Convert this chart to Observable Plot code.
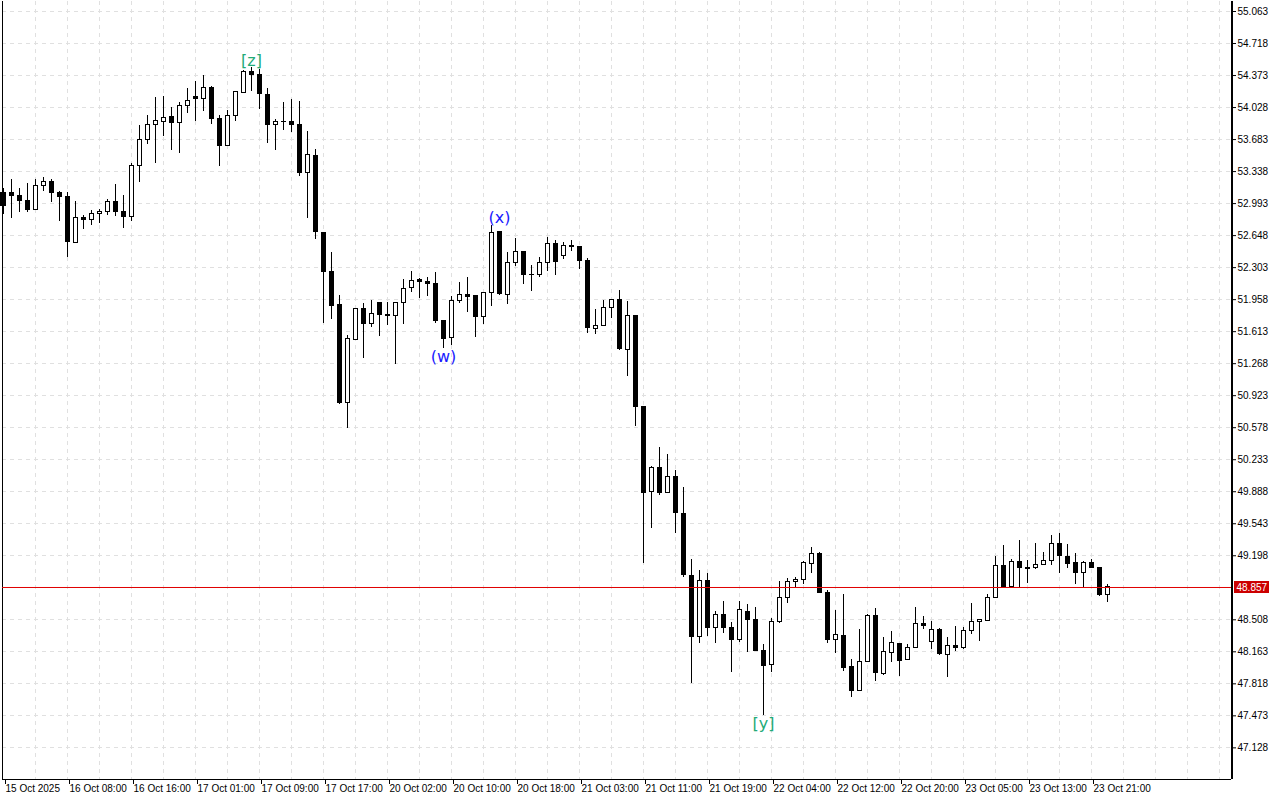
<!DOCTYPE html>
<html>
<head>
<meta charset="utf-8">
<script src="https://cdn.jsdelivr.net/npm/d3@7"></script>
<script src="https://cdn.jsdelivr.net/npm/@observablehq/plot@0.6"></script>
<style>
html, body { margin: 0; padding: 0; background: #ffffff; }
#chart svg { display: block; }
</style>
</head>
<body>
<div id="chart"></div>
<script>
// ---- Data (hourly candles, index 0..138) ----
const openP = [53.112,53.102,53.080,53.026,52.922,53.185,53.228,53.109,53.069,52.571,
52.840,52.818,52.883,52.905,53.012,52.905,52.846,53.400,53.673,53.842,
53.874,53.921,53.864,54.047,54.144,54.122,54.241,53.907,53.611,53.939,
54.190,54.406,54.384,54.165,53.842,53.867,53.867,53.842,53.320,53.511,
52.678,52.261,51.902,50.846,51.528,51.859,51.693,51.924,51.795,51.784,
51.924,52.081,52.167,52.153,52.129,51.730,51.547,51.946,52.010,51.999,
51.769,52.032,52.689,52.006,52.355,52.474,52.221,52.221,52.355,52.560,
52.430,52.538,52.527,52.377,51.644,51.676,51.870,51.949,51.417,51.787,
50.806,49.887,50.146,49.872,50.049,49.650,48.982,48.320,48.928,48.417,
48.562,48.422,48.285,48.594,48.508,48.174,48.023,48.482,48.745,48.913,
48.942,49.111,49.219,48.799,48.292,48.336,48.001,47.743,48.055,48.551,
47.922,48.152,48.249,48.077,48.206,48.465,48.271,48.393,48.131,48.228,
48.206,48.389,48.486,48.497,48.745,49.093,48.859,49.133,49.064,49.064,
49.101,49.144,49.327,49.187,49.122,49.014,49.122,49.068,48.777];
const highP = [53.156,53.253,53.156,53.210,53.253,53.277,53.249,53.127,53.112,53.012,
52.865,52.919,52.929,53.034,53.199,53.080,53.422,53.835,53.942,54.136,
54.147,54.028,54.082,54.233,54.309,54.373,54.255,53.942,53.993,54.204,
54.427,54.456,54.435,54.230,53.896,54.082,54.111,54.093,53.770,53.573,
52.682,52.466,52.003,51.572,51.866,51.916,51.946,51.930,51.924,51.928,
52.175,52.261,52.189,52.193,52.250,51.735,51.992,52.143,52.193,52.003,
52.036,52.760,52.693,52.466,52.614,52.478,52.326,52.409,52.628,52.595,
52.577,52.595,52.531,52.398,51.849,51.949,51.953,52.057,51.938,51.791,
50.810,50.160,50.361,50.289,50.117,49.934,49.155,49.039,49.007,48.597,
48.705,48.482,48.705,48.670,48.637,48.239,48.522,48.917,48.950,48.964,
49.136,49.287,49.230,48.824,48.608,48.781,48.080,48.403,48.565,48.631,
48.314,48.382,48.253,48.239,48.637,48.544,48.490,48.411,48.314,48.432,
48.422,48.680,48.512,48.777,49.190,49.309,49.155,49.363,49.144,49.330,
49.230,49.416,49.435,49.316,49.219,49.133,49.155,49.072,48.885];
const lowP = [52.875,52.836,52.900,52.897,52.918,53.127,53.005,52.803,52.409,52.560,
52.717,52.760,52.782,52.868,52.851,52.728,52.800,53.224,53.633,53.428,
53.716,53.568,53.536,53.967,53.881,53.989,53.842,53.396,53.605,53.881,
54.176,54.204,54.010,53.644,53.568,53.784,53.762,53.288,52.836,52.606,
51.704,51.747,50.831,50.566,51.525,51.327,51.661,51.558,51.679,51.256,
51.687,52.038,51.967,51.992,51.704,51.435,51.467,51.913,51.823,51.553,
51.687,51.887,51.999,51.909,52.318,52.124,52.049,52.200,52.264,52.221,
52.394,52.474,52.286,51.596,51.582,51.672,51.751,51.410,51.130,50.594,
49.118,49.495,49.851,49.868,49.435,48.967,47.818,48.256,48.331,48.256,
48.364,47.943,48.267,48.159,48.166,47.477,47.943,48.471,48.680,48.842,
48.888,49.004,48.788,48.256,48.148,47.954,47.674,47.739,48.051,47.846,
47.911,48.051,47.900,48.066,48.195,48.407,48.191,48.126,47.883,48.163,
48.185,48.346,48.277,48.486,48.741,48.855,48.855,48.859,48.902,49.053,
49.090,49.090,49.004,49.058,48.885,48.859,49.064,48.756,48.698];
const closeP = [52.965,53.073,53.019,52.919,53.185,53.228,53.105,53.062,52.577,52.840,
52.814,52.883,52.905,53.012,52.900,52.846,53.400,53.673,53.842,53.878,
53.918,53.864,54.047,54.101,54.118,54.241,53.902,53.611,53.939,54.198,
54.406,54.381,54.176,53.838,53.867,53.870,53.842,53.320,53.519,52.685,
52.254,51.887,50.842,51.536,51.859,51.693,51.805,51.790,51.780,51.924,
52.075,52.161,52.150,52.129,51.726,51.532,51.946,52.006,51.984,51.769,
52.032,52.678,52.017,52.355,52.474,52.221,52.224,52.355,52.560,52.361,
52.538,52.523,52.377,51.655,51.676,51.870,51.949,51.421,51.784,50.803,
49.876,50.146,49.872,50.049,49.657,48.989,48.320,48.928,48.417,48.562,
48.417,48.288,48.616,48.508,48.177,48.008,48.486,48.745,48.913,48.939,
49.122,49.219,48.795,48.292,48.346,47.991,47.743,48.055,48.551,47.932,
48.163,48.260,48.066,48.206,48.465,48.443,48.400,48.137,48.228,48.206,
48.389,48.486,48.508,48.745,49.090,48.859,49.133,49.064,49.053,49.101,
49.144,49.327,49.198,49.111,49.014,49.122,49.068,48.773,48.857];

const timeTickIndex = [0,8,16,24,32,40,48,56,64,72,80,88,96,104,112,120,128,136];
const timeTickLabels = ["15 Oct 2025","16 Oct 08:00","16 Oct 16:00","17 Oct 01:00","17 Oct 09:00",
"17 Oct 17:00","20 Oct 02:00","20 Oct 10:00","20 Oct 18:00","21 Oct 03:00","21 Oct 11:00",
"21 Oct 19:00","22 Oct 04:00","22 Oct 12:00","22 Oct 20:00","23 Oct 05:00","23 Oct 13:00","23 Oct 21:00"];
const priceTicks = [55.063,54.718,54.373,54.028,53.683,53.338,52.993,52.648,52.303,51.958,51.613,
51.268,50.923,50.578,50.233,49.888,49.543,49.198,48.508,48.163,47.818,47.473,47.128];
const lastPrice = 48.857;

const waveIndex = [31, 62, 55, 95];
const wavePrice = [54.456, 52.760, 51.435, 47.477];
const waveText = ["[z]", "(x)", "(w)", "[y]"];
const waveKind = ["top", "top", "bottom", "bottom"];

// ---- Build tables ----
const candles = openP.map((o, i) => ({
  i, open: o, high: highP[i], low: lowP[i], close: closeP[i], up: closeP[i] >= o
}));
const waves = waveIndex.map((idx, k) => ({i: idx, p: wavePrice[k], t: waveText[k], kind: waveKind[k]}));
const tickLabel = new Map(timeTickIndex.map((d, k) => [d, timeTickLabels[k]]));

const W = 1280, H = 800;
const xMin = -0.125, xMax = 153.5;
const yMin = 46.787, yMax = 55.1708;
const halfBody = 0.25;
const crisp = "crispEdges";
const waveColor = t => t.startsWith("[") ? "#22aa77" : "#1a1aff";

const plot = Plot.plot({
  width: W,
  height: H,
  marginLeft: 2,
  marginRight: 49,
  marginTop: 1,
  marginBottom: 21,
  style: {fontFamily: "'Liberation Sans', Arial, sans-serif", fontSize: "10px", background: "#ffffff", color: "#000000", overflow: "visible"},
  x: {type: "linear", domain: [xMin, xMax], label: null},
  y: {domain: [yMin, yMax], label: null},
  marks: [
    // grid
    Plot.ruleY(priceTicks, {stroke: "#e0e0e0", strokeDasharray: "4,4", shapeRendering: crisp}),
    Plot.ruleX(d3.range(4, xMax, 4), {stroke: "#e0e0e0", strokeDasharray: "4,4", shapeRendering: crisp}),
    // frame lines
    Plot.ruleX([xMin], {stroke: "#000", shapeRendering: crisp}),
    Plot.ruleY([yMin], {stroke: "#000", shapeRendering: crisp}),
    // wicks
    Plot.ruleX(candles, {x: "i", y1: "low", y2: "high", stroke: "#000", strokeWidth: 1, shapeRendering: crisp}),
    // bodies
    Plot.rect(candles, {
      x1: d => d.i - halfBody, x2: d => d.i + halfBody,
      y1: "open", y2: "close",
      fill: d => d.up ? "#ffffff" : "#000000",
      stroke: "#000", strokeWidth: 1, shapeRendering: crisp
    }),
    // current price line
    Plot.ruleY([lastPrice], {stroke: "#e00000", strokeWidth: 1, dy: 0.09}),
    // wave labels
    Plot.text(waves.filter(d => d.kind === "top"), {
      x: "i", y: "p", text: "t", fill: d => waveColor(d.t),
      fontFamily: "'DejaVu Sans', sans-serif", fontSize: 16, lineAnchor: "bottom", dy: -2
    }),
    Plot.text(waves.filter(d => d.kind === "bottom"), {
      x: "i", y: "p", text: "t", fill: d => waveColor(d.t),
      fontFamily: "'DejaVu Sans', sans-serif", fontSize: 16, lineAnchor: "bottom", dy: 14
    }),
    // axes
    Plot.ruleX([xMax], {stroke: "#000", strokeWidth: 2, shapeRendering: crisp}),
    Plot.axisY(priceTicks, {
      anchor: "right", tickSize: 4, tickPadding: 2, label: null,
      tickFormat: d3.format(".3f"), fontSize: 10
    }),
    Plot.axisX(timeTickIndex, {
      anchor: "bottom", tickSize: 5, tickPadding: 0, label: null,
      tickFormat: d => tickLabel.get(d), textAnchor: "start", dx: 2, fontSize: 10
    })
  ]
});

document.getElementById("chart").appendChild(plot);

// current price tag on the right axis, placed with the plot's own y scale
const yPix = plot.scale("y").apply(lastPrice);
const xEdge = plot.scale("x").apply(xMax);
const svg = d3.select(plot);
const tag = svg.append("g");
tag.append("rect")
  .attr("x", xEdge + 3).attr("y", Math.round(yPix) - 6)
  .attr("width", 35).attr("height", 12)
  .attr("fill", "#cc0000");
tag.append("text")
  .attr("x", xEdge + 5.5).attr("y", Math.round(yPix) + 4)
  .attr("fill", "#ffffff")
  .attr("text-anchor", "start")
  .attr("font-family", "'Liberation Sans', Arial, sans-serif")
  .attr("font-size", 10)
  .text(d3.format(".3f")(lastPrice));
</script>
</body>
</html>
